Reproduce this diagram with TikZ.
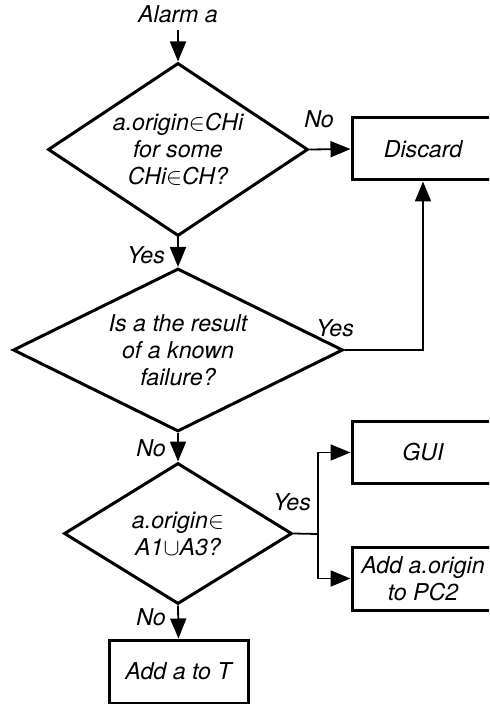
\documentclass[tikz,border=0pt]{standalone}
\usepackage{fontspec}
\setmainfont{TeX Gyre Heros}
\usetikzlibrary{shapes.geometric,arrows.meta}

\tikzset{
  decision/.style={diamond, draw, line width=1.5pt, inner sep=0pt, align=center},
  process/.style={rectangle, draw, line width=1.5pt, align=center,
    minimum width=71pt, minimum height=31pt},
  flow/.style={line width=0.9pt},
}

\begin{document}
\begin{tikzpicture}[x=0.5pt,y=-0.5pt,>={Triangle[length=10pt,width=8pt]},
  font=\fontsize{11.6}{13.5}\selectfont\itshape]
\clip (0,0) rectangle (489,704);

% main column
\node (alarm) at (178,14) {Alarm a};
\node[decision, aspect=1.5, minimum width=130pt, minimum height=86.5pt] (origin) at (178,149.5)
  {a.origin$\in$CHi\\for some\\CHi$\in$CH?};
\node[decision, aspect=2, minimum width=165pt, minimum height=81.5pt] (known) at (178,350)
  {Is a the result\\of a known\\failure?};
\node[decision, aspect=1.6, minimum width=114pt, minimum height=70.5pt] (area) at (178,533.5)
  {a.origin$\in$\\A1$\cup$A3?};
\node[process, minimum width=69.5pt, minimum height=31.5pt] (addT) at (178.5,671.5) {Add a to T};

% right column
\node[process] (discard) at (423,149) {Discard};
\node[process] (gui) at (423,452.5) {GUI};
\node[process, minimum height=31.5pt] (pc) at (423,578.5) {Add a.origin\\to PC2};
\coordinate (fork) at (318,534);

% labels
\node (no1) at (319,119) {No};
\node (yes1) at (146,255) {Yes};
\node (yes2) at (335,328) {Yes};
\node (no2) at (151,448) {No};
\node (yes3) at (292,502) {Yes};
\node (no3) at (151,617) {No};

\draw[flow,->] (alarm) -- (origin.north);
\draw[flow,->] (origin.east) -- (discard.west);
\draw[flow,->] (origin.south) -- (known.north);
\draw[flow,->] (known.east) -| (discard.south);
\draw[flow,->] (known.south) -- (area.north);
\draw[flow] (area.east) -- (fork);
\draw[flow,->] (fork) |- (gui.west);
\draw[flow,->] (fork) |- (pc.west);
\draw[flow,->] (area.south) -- (addT.north);
\end{tikzpicture}
\end{document}
